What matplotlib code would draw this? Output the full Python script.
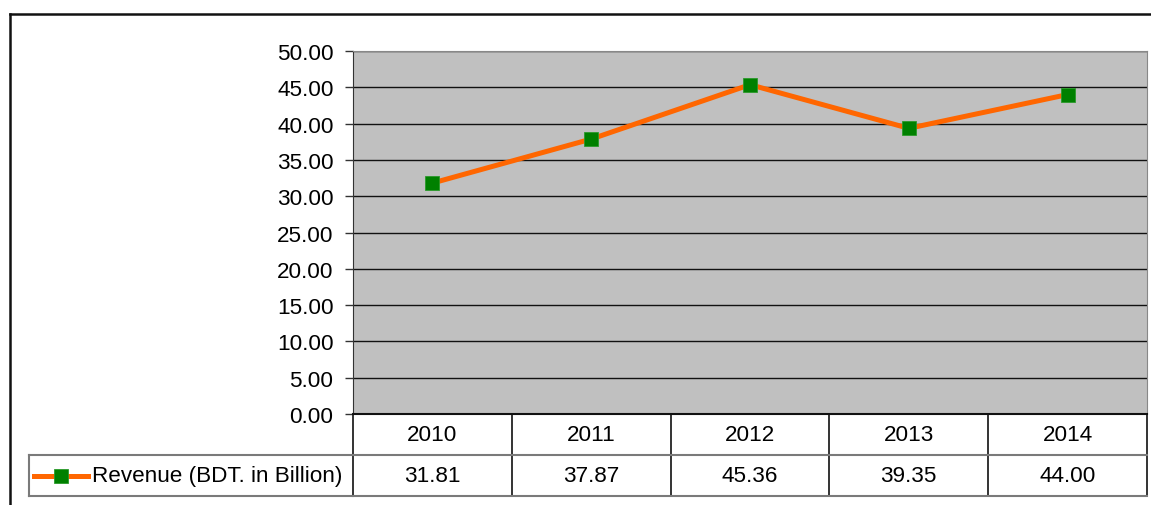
import matplotlib
matplotlib.use("Agg")
import matplotlib.pyplot as plt
from matplotlib.lines import Line2D

plt.rcParams["font.family"] = ["Liberation Sans", "DejaVu Sans"]

years = ["2010", "2011", "2012", "2013", "2014"]
revenue = [31.81, 37.87, 45.36, 39.35, 44.00]
series_label = "Revenue (BDT. in Billion)"
y_ticks = [0, 5, 10, 15, 20, 25, 30, 35, 40, 45, 50]

W, H = 1151, 506
LINE_C = "#FF6600"
MARK_C = "#008000"
FS = 16.2

fig = plt.figure(figsize=(W / 100, H / 100), dpi=100)


def px(x0, y0, x1, y1):
    """pixel box (top-left origin) -> figure fraction rect"""
    return [x0 / W, 1 - y1 / H, (x1 - x0) / W, (y1 - y0) / H]


# outer chart frame (only left/top visible in the crop)
frame = fig.add_axes(px(10, 15, 1170, 530))
frame.set_xticks([])
frame.set_yticks([])
frame.patch.set_alpha(0)
for s in frame.spines.values():
    s.set_linewidth(1.8)
    s.set_color("#111111")

# plot area
PL, PT, PR, PB = 353, 52, 1147, 415
ax = fig.add_axes(px(PL, PT, PR, PB))
ax.set_facecolor("#C0C0C0")
x = list(range(len(years)))
ax.set_xlim(-0.5, len(years) - 0.5)
ax.set_ylim(0, 50)
ax.set_yticks(y_ticks)
ax.set_yticklabels([f"{v:.2f}" for v in y_ticks], fontsize=FS)
ax.set_xticks([])
ax.tick_params(axis="y", length=6, width=1, color="#333333", pad=8)
ax.yaxis.grid(True, color="#111111", lw=1)
ax.set_axisbelow(True)
for side in ("top", "right"):
    ax.spines[side].set_color("#888888")
ax.spines["left"].set_color("#333333")
ax.spines["bottom"].set_color("#111111")
ax.spines["bottom"].set_linewidth(1.5)

ax.plot(x, revenue, color=LINE_C, lw=3.6, zorder=3,
        marker="s", ms=10, mfc=MARK_C, mec="#2a9a2a", mew=0.6)

# data table under the plot
ph = PB - PT
row_h = 41 / ph
r1, r2 = -row_h, -2 * row_h
tb = ax.get_xaxis_transform()
for i, (yr, v) in enumerate(zip(years, revenue)):
    ax.text(i, r1 / 2, yr, transform=tb, ha="center", va="center", fontsize=FS)
    ax.text(i, (r1 + r2) / 2, f"{v:.2f}", transform=tb, ha="center",
            va="center", fontsize=FS)
for b in range(len(years) + 1):
    ax.plot([b - 0.5, b - 0.5], [0, r2], transform=tb, color="#111111",
            lw=1.2, clip_on=False)
leg_left = (29 - PL) / (PR - PL)
ax.plot([-0.5, len(years) - 0.5], [r1, r1], transform=tb, color="#7a7a7a",
        lw=1.5, clip_on=False)
ax.plot([-0.5, len(years) - 0.5], [r2, r2], transform=tb, color="#7a7a7a",
        lw=1.5, clip_on=False)

# legend key cell
ta = ax.transAxes
ax.add_line(Line2D([leg_left, 0], [r1, r1], transform=ta, color="#7a7a7a",
                   lw=1.5, clip_on=False))
ax.add_line(Line2D([leg_left, 0], [r2, r2], transform=ta, color="#7a7a7a",
                   lw=1.5, clip_on=False))
ax.add_line(Line2D([leg_left, leg_left], [r1, r2], transform=ta,
                   color="#7a7a7a", lw=1.5, clip_on=False))
kx0 = (34 - PL) / (PR - PL)
kx1 = (88 - PL) / (PR - PL)
ym = (r1 + r2) / 2
ax.add_line(Line2D([kx0, kx1], [ym, ym], transform=ta, color=LINE_C, lw=3.6,
                   clip_on=False))
ax.add_line(Line2D([(kx0 + kx1) / 2], [ym], transform=ta, marker="s", ms=10,
                   mfc=MARK_C, mec="#2a9a2a", mew=0.6, clip_on=False))
ax.text((92 - PL) / (PR - PL), ym, series_label, transform=ta, ha="left",
        va="center", fontsize=FS)

fig.savefig("out.png", dpi=100)
